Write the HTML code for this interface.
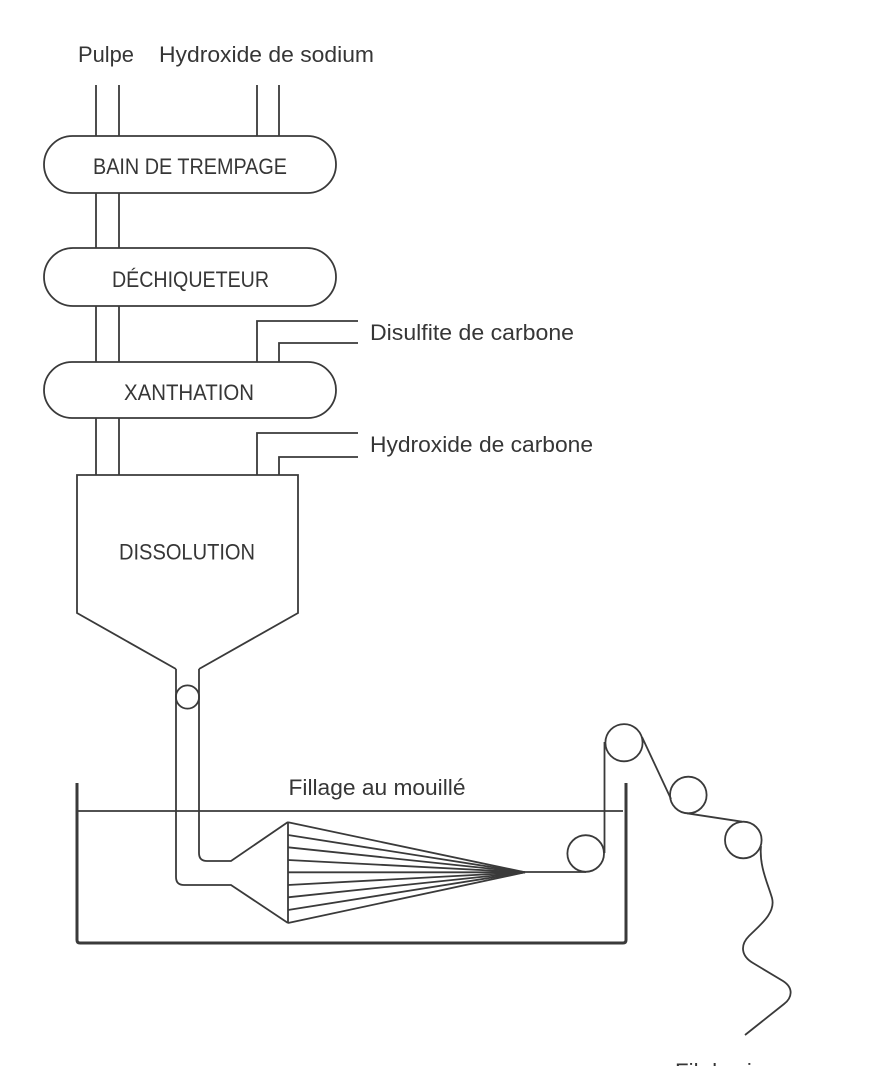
<!DOCTYPE html>
<html>
<head>
<meta charset="utf-8">
<style>
  html, body { margin: 0; padding: 0; background: #ffffff; }
  body { width: 870px; height: 1066px; overflow: hidden; }
  svg { display: block; }
  text { font-family: "Liberation Sans", "DejaVu Sans", sans-serif; font-size: 22px; fill: #363636; }
</style>
</head>
<body>
<svg width="870" height="1066" viewBox="0 0 870 1066" xmlns="http://www.w3.org/2000/svg">
  <g fill="none" stroke="#3a3a3a" stroke-width="1.8" stroke-linejoin="miter" stroke-linecap="butt">
    <!-- top feed pipes -->
    <line x1="96" y1="85" x2="96" y2="136"/>
    <line x1="119" y1="85" x2="119" y2="136"/>
    <line x1="257" y1="85" x2="257" y2="136"/>
    <line x1="279" y1="85" x2="279" y2="136"/>

    <!-- pills -->
    <rect x="44" y="136" width="292" height="57" rx="28.5" ry="28.5"/>
    <rect x="44" y="248" width="292" height="58" rx="29" ry="29"/>
    <rect x="44" y="362" width="292" height="56" rx="28" ry="28"/>

    <!-- pipes between pills -->
    <line x1="96" y1="193" x2="96" y2="248"/>
    <line x1="119" y1="193" x2="119" y2="248"/>
    <line x1="96" y1="306" x2="96" y2="362"/>
    <line x1="119" y1="306" x2="119" y2="362"/>
    <line x1="96" y1="418" x2="96" y2="475"/>
    <line x1="119" y1="418" x2="119" y2="475"/>

    <!-- Disulfite feed -->
    <polyline points="257,362 257,321 358,321"/>
    <polyline points="279,362 279,343 358,343"/>
    <!-- Hydroxide de carbone feed -->
    <polyline points="257,475 257,433 358,433"/>
    <polyline points="279,475 279,457 358,457"/>

    <!-- Dissolution hopper -->
    <polyline points="176,669 77,613 77,475 298,475 298,613 199,669"/>

    <!-- pipes down into bath -->
    <path d="M176 669 L176 877 Q176 885 184 885 L231 885 L288 923"/>
    <path d="M199 669 L199 853 Q199 861 207 861 L231 861 L288 822"/>
    <circle cx="187.5" cy="697" r="11.6"/>
    <line x1="288" y1="822" x2="288" y2="923"/>

    <!-- fan of filaments -->
    <line x1="288" y1="822.3" x2="525" y2="872.3"/>
    <line x1="288" y1="835" x2="525" y2="872.3"/>
    <line x1="288" y1="847.3" x2="525" y2="872.3"/>
    <line x1="288" y1="860" x2="525" y2="872.3"/>
    <line x1="288" y1="872.3" x2="525" y2="872.3"/>
    <line x1="288" y1="885" x2="525" y2="872.3"/>
    <line x1="288" y1="897.3" x2="525" y2="872.3"/>
    <line x1="288" y1="910" x2="525" y2="872.3"/>
    <line x1="288" y1="923" x2="525" y2="872.3"/>
    <line x1="525" y1="872" x2="586" y2="872"/>

    <!-- water line -->
    <line x1="77" y1="811" x2="623" y2="811"/>

    <!-- rollers -->
    <circle cx="585.7" cy="853.5" r="18.3"/>
    <line x1="604.5" y1="853" x2="604.5" y2="742"/>
    <circle cx="624" cy="742.7" r="18.6"/>
    <line x1="642" y1="737" x2="671" y2="799"/>
    <circle cx="688.3" cy="795" r="18.3"/>
    <line x1="687" y1="813.3" x2="742" y2="821.7"/>
    <circle cx="743.3" cy="840" r="18.3"/>

    <!-- wavy fiber -->
    <path d="M761 846 C759 866 768 884 772 898 C776 913 760 925 749 936 C740 945 741 956 753 963 L783 981 C794 988 792 998 784 1004 L745 1035"/>
  </g>

  <!-- tank -->
  <path d="M77 783 L77 940 Q77 943 80 943 L623 943 Q626 943 626 940 L626 783" fill="none" stroke="#3a3a3a" stroke-width="3"/>

  <!-- labels -->
  <text x="78" y="62" textLength="56" lengthAdjust="spacingAndGlyphs">Pulpe</text>
  <text x="159" y="62" textLength="215" lengthAdjust="spacingAndGlyphs">Hydroxide de sodium</text>
  <text x="93" y="174" textLength="194" lengthAdjust="spacingAndGlyphs">BAIN DE TREMPAGE</text>
  <text x="112" y="287" textLength="157" lengthAdjust="spacingAndGlyphs">DÉCHIQUETEUR</text>
  <text x="124" y="400" textLength="130" lengthAdjust="spacingAndGlyphs">XANTHATION</text>
  <text x="370" y="340" textLength="204" lengthAdjust="spacingAndGlyphs">Disulfite de carbone</text>
  <text x="370" y="452" textLength="223" lengthAdjust="spacingAndGlyphs">Hydroxide de carbone</text>
  <text x="119" y="559.5" textLength="136" lengthAdjust="spacingAndGlyphs">DISSOLUTION</text>
  <text x="288.5" y="795" textLength="177" lengthAdjust="spacingAndGlyphs">Fillage au mouillé</text>
  <text x="675" y="1079" textLength="135" lengthAdjust="spacingAndGlyphs">Fil de viscose</text>
</svg>
</body>
</html>
